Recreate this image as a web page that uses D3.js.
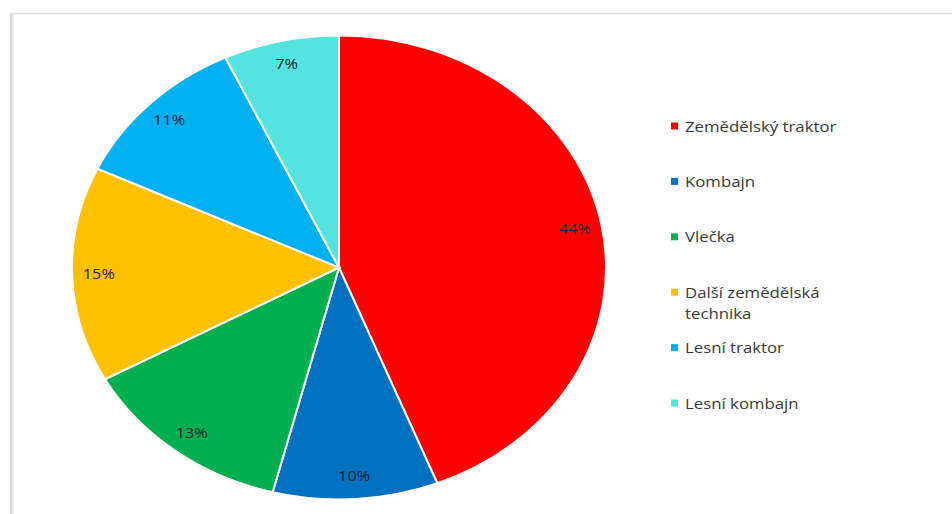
<!DOCTYPE html>
<html>
<head>
<meta charset="utf-8">
<script src="https://cdn.jsdelivr.net/npm/d3@7"></script>
<style>
  html, body { margin: 0; padding: 0; background: #fff; }
  svg { display: block; }
</style>
</head>
<body>
<svg id="chart" width="952" height="514"></svg>
<script>
// Share of accidents by machine type
const categories = ["Zemědělský traktor", "Kombajn", "Vlečka", "Další zemědělská technika", "Lesní traktor", "Lesní kombajn"];
const legendLines = [["Zemědělský traktor"], ["Kombajn"], ["Vlečka"], ["Další zemědělská", "technika"], ["Lesní traktor"], ["Lesní kombajn"]];
const values = [44, 10, 13, 15, 11, 7];
const colors = ["#ff0000", "#0070c0", "#00b050", "#ffc000", "#00b0f0", "#55e3df"];

const svg = d3.select("#chart");
const W = 952, H = 514;

// chart frame
svg.append("rect").attr("x", 0).attr("y", 0).attr("width", W).attr("height", H).attr("fill", "#fff");
svg.append("line").attr("x1", 10).attr("x2", W).attr("y1", 13.5).attr("y2", 13.5)
  .attr("stroke", "#dedede").attr("stroke-width", 1.5);
svg.append("rect").attr("x", 10).attr("y", 13).attr("width", 2).attr("height", H - 13).attr("fill", "#d4d4d4");
svg.append("rect").attr("x", 12).attr("y", 14).attr("width", 2).attr("height", H - 14).attr("fill", "#ececec");

// pie: drawn as a circle, stretched horizontally into an ellipse
const cx = 339, cy = 267.5, ry = 232, rx = 267;
const sx = rx / ry;

const pie = d3.pie().sort(null).value(d => d);
const arcs = pie(values);
const arc = d3.arc().innerRadius(0).outerRadius(ry);

const g = svg.append("g").attr("transform", `translate(${cx},${cy}) scale(${sx},1)`);
g.selectAll("path").data(arcs).join("path")
  .attr("d", arc)
  .attr("fill", (d, i) => colors[i])
  .attr("stroke", "#fff")
  .attr("stroke-width", 2)
  .attr("vector-effect", "non-scaling-stroke");

// percentage labels near the outer edge (text widened like the pie)
const labelArc = d3.arc().innerRadius(ry * 0.9).outerRadius(ry * 0.9);
const fmt = d3.format(".0%");
svg.append("g").selectAll("g").data(arcs).join("g")
  .attr("transform", d => `translate(${cx + labelArc.centroid(d)[0] * sx},${cy + labelArc.centroid(d)[1]}) scale(1.12,1)`)
  .append("text")
  .attr("text-anchor", "middle")
  .attr("dominant-baseline", "central")
  .attr("font-family", "'Open Sans', 'Noto Sans', sans-serif")
  .attr("font-size", 14.5)
  .attr("fill", "#1b2230")
  .text(d => fmt(d.data / 100));

// legend
const legendX = 671, legendY0 = 126, legendStep = 55.4;
const lg = svg.append("g");
legendLines.forEach((lines, i) => {
  const y = legendY0 + i * legendStep;
  lg.append("rect").attr("x", legendX).attr("y", y - 3.5).attr("width", 7).attr("height", 7).attr("fill", colors[i]);
  const t = lg.append("g")
    .attr("transform", `translate(${legendX + 14},${y}) scale(1.12,1)`)
    .append("text")
    .attr("dominant-baseline", "central")
    .attr("font-family", "'Open Sans', 'Noto Sans', sans-serif")
    .attr("font-size", 15)
    .attr("fill", "#3a3a3a");
  lines.forEach((ln, j) => {
    t.append("tspan").attr("x", 0).attr("dy", j === 0 ? 0 : 21).text(ln);
  });
});
</script>
</body>
</html>
